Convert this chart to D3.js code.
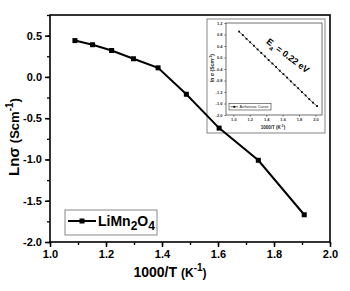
<!DOCTYPE html>
<html>
<head>
<meta charset="utf-8">
<script src="https://cdn.jsdelivr.net/npm/d3@7"></script>
<style>
  body { margin: 0; background: #fff; }
  text { font-family: "Liberation Sans", Arial, sans-serif; }
</style>
</head>
<body>
<div id="chart"></div>
<script>
// main series: LiMn2O4
var invT = [1.089, 1.152, 1.220, 1.298, 1.386, 1.487, 1.604, 1.744, 1.908]
var lnSigma = [0.44, 0.39, 0.32, 0.22, 0.11, -0.21, -0.62, -1.01, -1.67]

// inset: Arrhenius curve
var insetX = [1.07, 1.115, 1.16, 1.205, 1.25, 1.295, 1.34, 1.385, 1.43, 1.475, 1.52,
  1.565, 1.61, 1.655, 1.70, 1.745, 1.79, 1.835, 1.88, 1.925, 1.97, 2.02]
var insetY = [0.90, 0.78, 0.65, 0.53, 0.41, 0.28, 0.16, 0.04, -0.09, -0.21, -0.33,
  -0.46, -0.58, -0.70, -0.83, -0.95, -1.07, -1.20, -1.32, -1.45, -1.57, -1.69]

var xTicks = [1.0, 1.2, 1.4, 1.6, 1.8, 2.0]
var yTicks = [-2.0, -1.5, -1.0, -0.5, 0.0, 0.5]
var insetXTicks = [1.0, 1.2, 1.4, 1.6, 1.8, 2.0]
var insetYTicks = [-2.0, -1.6, -1.2, -0.8, -0.4, 0.0, 0.4, 0.8, 1.2]

var width = 350, height = 291
var svg = d3.select("#chart").append("svg")
  .attr("width", width)
  .attr("height", height)

var fmt = function (d) { return d.toFixed(1) }

// ----- inset (drawn first so the main curve sits on top) -----
svg.append("rect")
  .attr("x", 207).attr("y", 19).attr("width", 118).attr("height", 114)
  .attr("fill", "none").attr("stroke", "#999").attr("stroke-width", 1.2)

var il = 226, ir = 322, it = 23, ib = 115
var ix = d3.scaleLinear().domain([0.91, 2.08]).range([il, ir])
var iy = d3.scaleLinear().domain([-2.0, 1.2]).range([ib, it])

var ixAxis = svg.append("g")
  .attr("transform", "translate(0," + ib + ")")
  .call(d3.axisBottom(ix).tickValues(insetXTicks).tickSize(1.5).tickPadding(2).tickFormat(fmt))
ixAxis.select(".domain").remove()
ixAxis.selectAll("line").attr("stroke-width", 0.6)
ixAxis.selectAll("text").attr("font-size", 4).attr("font-weight", "bold").attr("fill", "#333")

var iyAxis = svg.append("g")
  .attr("transform", "translate(" + il + ",0)")
  .call(d3.axisLeft(iy).tickValues(insetYTicks).tickSize(1.5).tickPadding(2).tickFormat(fmt))
iyAxis.select(".domain").remove()
iyAxis.selectAll("line").attr("stroke-width", 0.6)
iyAxis.selectAll("text").attr("font-size", 4).attr("font-weight", "bold").attr("fill", "#333")

svg.append("rect")
  .attr("x", il).attr("y", it).attr("width", ir - il).attr("height", ib - it)
  .attr("fill", "none").attr("stroke", "#333").attr("stroke-width", 0.7)

var iline = d3.line()
  .x(function (d) { return ix(d[0]) })
  .y(function (d) { return iy(d[1]) })
var ipts = d3.zip(insetX, insetY)

svg.append("path")
  .datum(ipts)
  .attr("d", iline)
  .attr("fill", "none").attr("stroke", "#000").attr("stroke-width", 0.6)

svg.selectAll(".ipt")
  .data(ipts)
  .enter().append("rect")
  .attr("x", function (d) { return ix(d[0]) - 0.9 })
  .attr("y", function (d) { return iy(d[1]) - 0.9 })
  .attr("width", 1.8).attr("height", 1.8)
  .attr("fill", "#000")

var ixt = svg.append("text")
  .attr("x", 273).attr("y", 129)
  .attr("text-anchor", "middle")
  .attr("font-weight", "bold").attr("font-size", 4.5).attr("fill", "#222")
ixt.append("tspan").text("1000/T (K")
ixt.append("tspan").attr("font-size", 3.5).attr("dy", -2).text("-1")
ixt.append("tspan").attr("dy", 2).text(")")

var iyt = svg.append("text")
  .attr("transform", "translate(214,68) rotate(-90)")
  .attr("text-anchor", "middle")
  .attr("font-weight", "bold").attr("font-size", 5).attr("fill", "#222")
iyt.append("tspan").text("ln σ (Scm")
iyt.append("tspan").attr("font-size", 4).attr("dy", -2).text("-1")
iyt.append("tspan").attr("dy", 2).text(")")

var ea = svg.append("text")
  .attr("transform", "translate(286,58) rotate(37)")
  .attr("text-anchor", "middle")
  .attr("font-weight", "bold").attr("font-size", 9)
ea.append("tspan").text("E")
ea.append("tspan").attr("font-size", 6.5).attr("dy", 3).text("a")
ea.append("tspan").attr("dy", -3).text(" = 0.22 eV")

svg.append("rect")
  .attr("x", 229).attr("y", 103.5).attr("width", 42).attr("height", 6.5)
  .attr("fill", "#fff").attr("stroke", "#333").attr("stroke-width", 0.6)
svg.append("line")
  .attr("x1", 230.5).attr("x2", 238).attr("y1", 106.8).attr("y2", 106.8)
  .attr("stroke", "#000").attr("stroke-width", 0.6)
svg.append("rect")
  .attr("x", 233.4).attr("y", 105.9).attr("width", 1.8).attr("height", 1.8).attr("fill", "#000")
svg.append("text")
  .attr("x", 239.5).attr("y", 108.3)
  .attr("font-size", 4).attr("fill", "#222")
  .text("Arrhenius Curve")

// ----- main plot -----
var mLeft = 50, mRight = 330, mTop = 15, mBottom = 242
var x = d3.scaleLinear().domain([1.0, 2.0]).range([mLeft, mRight])
var y = d3.scaleLinear().domain([-2.0, 0.75]).range([mBottom, mTop])

svg.append("g")
  .attr("transform", "translate(0," + mBottom + ")")
  .call(d3.axisBottom(x).tickValues(d3.range(1.0, 2.05, 0.1)).tickSize(3).tickFormat(""))
  .call(function (g) { g.select(".domain").remove() })
  .selectAll("line").attr("stroke-width", 1.3)

var xAxis = svg.append("g")
  .attr("transform", "translate(0," + mBottom + ")")
  .call(d3.axisBottom(x).tickValues(xTicks).tickSize(5).tickPadding(3).tickFormat(fmt))
xAxis.select(".domain").remove()
xAxis.selectAll("line").attr("stroke-width", 1.5)
xAxis.selectAll("text").attr("font-size", 11).attr("font-weight", "bold").attr("fill", "#000")

svg.append("g")
  .attr("transform", "translate(" + mLeft + ",0)")
  .call(d3.axisLeft(y).tickValues(d3.range(-2.0, 0.76, 0.25)).tickSize(3).tickFormat(""))
  .call(function (g) { g.select(".domain").remove() })
  .selectAll("line").attr("stroke-width", 1.3)

var yAxis = svg.append("g")
  .attr("transform", "translate(" + mLeft + ",0)")
  .call(d3.axisLeft(y).tickValues(yTicks).tickSize(5).tickPadding(3).tickFormat(fmt))
yAxis.select(".domain").remove()
yAxis.selectAll("line").attr("stroke-width", 1.5)
yAxis.selectAll("text").attr("font-size", 11).attr("font-weight", "bold").attr("fill", "#000")

svg.append("rect")
  .attr("x", mLeft).attr("y", mTop)
  .attr("width", mRight - mLeft).attr("height", mBottom - mTop)
  .attr("fill", "none").attr("stroke", "#000").attr("stroke-width", 1.6)

var line = d3.line()
  .x(function (d) { return x(d[0]) })
  .y(function (d) { return y(d[1]) })
var pts = d3.zip(invT, lnSigma)

svg.append("path")
  .datum(pts)
  .attr("d", line)
  .attr("fill", "none").attr("stroke", "#000").attr("stroke-width", 2)

svg.selectAll(".pt")
  .data(pts)
  .enter().append("rect")
  .attr("x", function (d) { return x(d[0]) - 2.5 })
  .attr("y", function (d) { return y(d[1]) - 2.5 })
  .attr("width", 5).attr("height", 5)
  .attr("fill", "#000")

// axis titles
var xt = svg.append("text")
  .attr("x", 170).attr("y", 277)
  .attr("text-anchor", "middle")
  .attr("font-weight", "bold").attr("font-size", 14)
xt.append("tspan").text("1000/T ")
xt.append("tspan").attr("font-size", 12).text("(K")
xt.append("tspan").attr("font-size", 10).attr("dy", -6).text("-1")
xt.append("tspan").attr("font-size", 12).attr("dy", 6).text(")")

var yt = svg.append("text")
  .attr("transform", "translate(19," + 137 + ") rotate(-90)")
  .attr("text-anchor", "middle")
  .attr("font-weight", "bold").attr("font-size", 15)
yt.append("tspan").text("Lnσ ")
yt.append("tspan").attr("font-size", 13).text("(Scm")
yt.append("tspan").attr("font-size", 10).attr("dy", -6).text("-1")
yt.append("tspan").attr("font-size", 13).attr("dy", 6).text(")")

// legend
svg.append("rect")
  .attr("x", 65).attr("y", 210).attr("width", 92).attr("height", 25)
  .attr("fill", "#fff").attr("stroke", "#888").attr("stroke-width", 1)
svg.append("line")
  .attr("x1", 68).attr("x2", 96).attr("y1", 221).attr("y2", 221)
  .attr("stroke", "#000").attr("stroke-width", 2)
svg.append("rect")
  .attr("x", 79.5).attr("y", 218.5).attr("width", 5).attr("height", 5).attr("fill", "#000")
var lg = svg.append("text")
  .attr("x", 98).attr("y", 226)
  .attr("font-weight", "bold").attr("font-size", 14)
lg.append("tspan").text("LiMn")
lg.append("tspan").attr("font-size", 12).attr("dy", 4).text("2")
lg.append("tspan").attr("dy", -4).text("O")
lg.append("tspan").attr("font-size", 12).attr("dy", 4).text("4")
</script>
</body>
</html>
